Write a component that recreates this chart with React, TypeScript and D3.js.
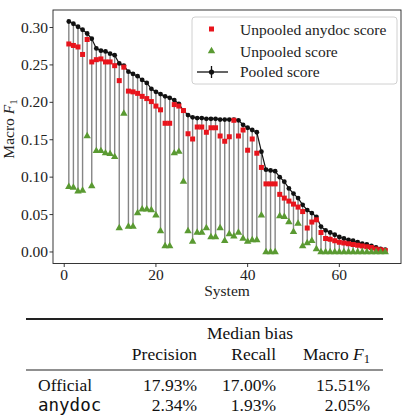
import React from 'react';
import * as d3 from 'd3';

// values, one per system (1..70)
const pooled = [
  0.308, 0.305, 0.301, 0.297, 0.292, 0.285, 0.272, 0.269, 0.268, 0.265,
  0.263, 0.252, 0.249, 0.241, 0.238, 0.235, 0.230, 0.226, 0.218, 0.214,
  0.211, 0.208, 0.206, 0.203, 0.198, 0.189, 0.183, 0.180, 0.179, 0.179,
  0.178, 0.178, 0.178, 0.177, 0.177, 0.177, 0.177, 0.176, 0.170, 0.166,
  0.163, 0.160, 0.134, 0.110, 0.109, 0.108, 0.100, 0.094, 0.085, 0.078,
  0.072, 0.063, 0.056, 0.052, 0.047, 0.034, 0.029, 0.026, 0.023, 0.020,
  0.018, 0.016, 0.015, 0.013, 0.011, 0.010, 0.008, 0.006, 0.004, 0.003,
];
const anydoc = [
  0.278, 0.276, 0.274, 0.264, 0.284, 0.254, 0.257, 0.258, 0.254, 0.254,
  0.249, 0.229, 0.247, 0.215, 0.214, 0.212, 0.208, 0.205, 0.201, 0.195,
  0.190, 0.172, 0.172, 0.197, 0.195, 0.189, 0.158, 0.151, 0.167, 0.167,
  0.160, 0.166, 0.166, 0.155, 0.148, 0.154, 0.176, 0.155, 0.163, 0.136,
  0.151, 0.132, 0.113, 0.091, 0.091, 0.091, 0.077, 0.072, 0.068, 0.064,
  0.060, 0.054, 0.032, 0.040, 0.043, 0.026, 0.018, 0.017, 0.015, 0.013,
  0.012, 0.011, 0.010, 0.009, 0.008, 0.007, 0.006, 0.004, 0.003, 0.002,
];
const unpooled = [
  0.087, 0.086, 0.081, 0.082, 0.155, 0.088, 0.135, 0.135, 0.132, 0.131,
  0.127, 0.032, 0.185, 0.034, 0.034, 0.052, 0.057, 0.057, 0.056, 0.049,
  0.028, 0.008, 0.008, 0.132, 0.134, 0.094, 0.028, 0.014, 0.026, 0.026,
  0.032, 0.020, 0.020, 0.032, 0.015, 0.024, 0.021, 0.026, 0.018, 0.014,
  0.016, 0.016, 0.049, 0.000, 0.000, 0.000, 0.048, 0.047, 0.040, 0.027,
  0.038, 0.008, 0.012, 0.015, 0.004, 0.000, 0.000, 0.000, 0.000, 0.000,
  0.000, 0.000, 0.000, 0.000, 0.000, 0.000, 0.000, 0.000, 0.000, 0.000,
];
const xTicks = [0, 20, 40, 60];
const yTicks = [0, 0.05, 0.1, 0.15, 0.2, 0.25, 0.3];

const tableCols = ['Precision', 'Recall'];
const tableRows = ['Official', 'anydoc'];
const tableValues = [
  ['17.93%', '17.00%', '15.51%'],
  ['2.34%', '1.93%', '2.05%'],
];

const RED = '#e8141c';
const GREEN = '#5a9a32';
const serif = "'Liberation Serif', 'DejaVu Serif', serif";
const mono = "'DejaVu Sans Mono', 'Liberation Mono', monospace";

export default function App() {
  const width = 403;
  const height = 417;
  const left = 53, right = 401, top = 10, bottom = 263.5;

  const systems = pooled.map((_, i) => i + 1);
  const x = d3.scaleLinear().domain([-2.45, 73.45]).range([left, right]);
  const y = d3.scaleLinear().domain([-0.0154, 0.3234]).range([bottom, top]);

  const line = d3.line<number>()
    .x((_, i) => x(systems[i]))
    .y(d => y(d));

  const tri = d3.symbol().type(d3.symbolTriangle).size(24)();
  const sq = 5;

  const colRight = [197, 276, 370];
  const txt = { fill: '#222', fontSize: 15.5, fontFamily: serif };
  const tbl = { fill: '#111', fontSize: 17.5, fontFamily: serif };

  return (
    <svg width={width} height={height}
      style={{ position: 'absolute', left: 0, top: 0, background: '#fff' }}>
      {/* stems from unpooled to pooled */}
      {systems.map((s, i) => (
        <line key={'st' + s} x1={x(s)} x2={x(s)} y1={y(unpooled[i])} y2={y(pooled[i])}
          stroke="#858585" strokeWidth={1.4} />
      ))}
      <path d={line(pooled) || ''} fill="none" stroke="#111" strokeWidth={1.2} />
      {systems.map((s, i) => (
        <circle key={'p' + s} cx={x(s)} cy={y(pooled[i])} r={2.4} fill="#111" />
      ))}
      {systems.map((s, i) => (
        <rect key={'a' + s} x={x(s) - sq / 2} y={y(anydoc[i]) - sq / 2} width={sq} height={sq} fill={RED} />
      ))}
      {systems.map((s, i) => (
        <path key={'u' + s} d={tri} transform={`translate(${x(s)},${y(unpooled[i])})`} fill={GREEN} />
      ))}

      {/* frame */}
      <rect x={left} y={top} width={right - left} height={bottom - top} fill="none" stroke="#222" strokeWidth={0.9} />

      {/* y axis */}
      {yTicks.map(t => (
        <g key={'yt' + t}>
          <line x1={left - 3.5} x2={left} y1={y(t)} y2={y(t)} stroke="#222" strokeWidth={0.9} />
          <text x={left - 5} y={y(t) + 5} textAnchor="end" style={txt}>
            {d3.format('.2f')(t)}
          </text>
        </g>
      ))}
      <text transform={`translate(14,129) rotate(-90)`} textAnchor="middle" style={txt}>
        Macro <tspan fontStyle="italic">F</tspan><tspan style={{ fontSize: 11 }} dy={3}>1</tspan>
      </text>

      {/* x axis */}
      {xTicks.map(t => (
        <g key={'xt' + t}>
          <line x1={x(t)} x2={x(t)} y1={bottom} y2={bottom + 3.5} stroke="#222" strokeWidth={0.9} />
          <text x={x(t)} y={280} textAnchor="middle" style={txt}>{t}</text>
        </g>
      ))}
      <text x={(left + right) / 2} y={296} textAnchor="middle" style={txt}>System</text>

      {/* legend */}
      <rect x={192} y={17} width={205} height={67} rx={3} fill="#fff" fillOpacity={0.85} stroke="#d0d0d0" strokeWidth={1} />
      <rect x={211.5 - sq / 2} y={29 - sq / 2} width={sq} height={sq} fill={RED} />
      <text x={240} y={35} style={txt}>Unpooled anydoc score</text>
      <path d={tri} transform="translate(211.5,51)" fill={GREEN} />
      <text x={240} y={56.5} style={txt}>Unpooled score</text>
      <line x1={197} x2={228} y1={72} y2={72} stroke="#111" strokeWidth={1.3} />
      <line x1={211.5} x2={211.5} y1={66} y2={78} stroke="#111" strokeWidth={1.3} />
      <circle cx={211.5} cy={72} r={2.6} fill="#111" />
      <text x={240} y={77} style={txt}>Pooled score</text>

      {/* table */}
      <line x1={26} x2={383} y1={319} y2={319} stroke="#222" strokeWidth={2} />
      <text x={250} y={339} textAnchor="middle" style={tbl}>Median bias</text>
      {tableCols.map((c, i) => (
        <text key={c} x={colRight[i]} y={360} textAnchor="end" style={tbl}>{c}</text>
      ))}
      <text x={colRight[2]} y={360} textAnchor="end" style={tbl}>
        Macro <tspan fontStyle="italic">F</tspan><tspan style={{ fontSize: 12.5 }} dy={3}>1</tspan>
      </text>
      <line x1={26} x2={383} y1={370} y2={370} stroke="#222" strokeWidth={1.2} />
      {tableRows.map((r, ri) => (
        <g key={r}>
          <text x={38} y={391 + ri * 19.5}
            style={{ ...tbl, fontFamily: ri === 1 ? mono : serif }}>{r}</text>
          {tableValues[ri].map((v, ci) => (
            <text key={ci} x={colRight[ci]} y={391 + ri * 19.5} textAnchor="end" style={tbl}>{v}</text>
          ))}
        </g>
      ))}
    </svg>
  );
}
